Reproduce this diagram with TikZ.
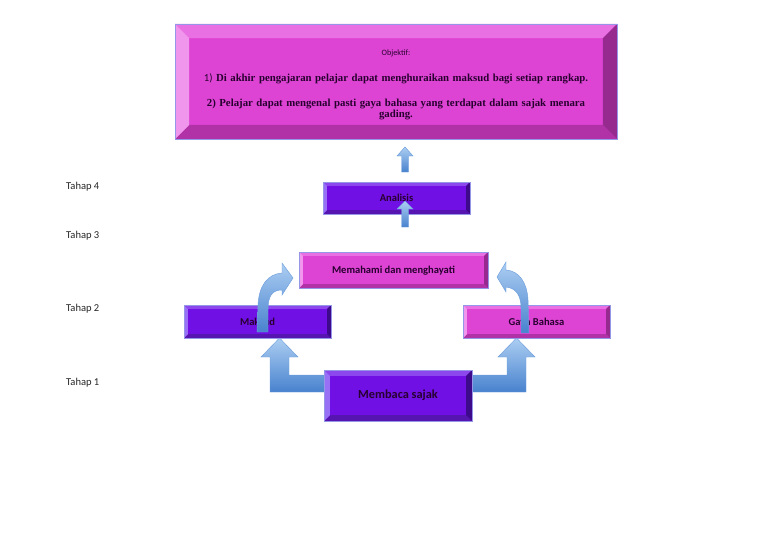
\documentclass[tikz,border=0pt]{standalone}
\usepackage{fontspec}
\setmainfont{Liberation Serif}
\newfontfamily\calfont{Carlito}
\definecolor{magface}{RGB}{222,68,212}
\definecolor{magtop}{RGB}{232,112,226}
\definecolor{magleft}{RGB}{240,150,236}
\definecolor{magright}{RGB}{150,42,142}
\definecolor{magbot}{RGB}{176,50,166}
\definecolor{purface}{RGB}{112,16,228}
\definecolor{purtop}{RGB}{140,72,236}
\definecolor{purleft}{RGB}{152,112,245}
\definecolor{purright}{RGB}{62,10,140}
\definecolor{purbot}{RGB}{86,20,176}
\definecolor{rimblue}{RGB}{150,150,232}
\definecolor{inktext}{RGB}{40,0,48}
\definecolor{arrtop}{RGB}{172,206,242}
\definecolor{arrbot}{RGB}{72,130,206}
\definecolor{arrline}{RGB}{112,160,222}
\tikzset{
  box/.style={rectangle, inner sep=0pt, outer sep=0pt, text=inktext,
    font=\calfont\bfseries\fontsize{9}{10}\selectfont},
  magbox/.style={box, fill=magface},
  purbox/.style={box, fill=purface},
  rim/.style={draw=rimblue, line width=0.8pt},
  blockarrow/.style={top color=arrtop, bottom color=arrbot, draw=arrline, line width=0.4pt},
  tahap/.style={anchor=west, text=black!85, font=\calfont\fontsize{9}{10}\selectfont}
}
% bevelled edges round a box: node, depth, colour prefix
\newcommand{\bevel}[3]{%
  \fill[#3top] (#1.north west) -- (#1.north east) -- ([shift={(-#2,-#2)}]#1.north east) -- ([shift={(#2,-#2)}]#1.north west) -- cycle;
  \fill[#3bot] (#1.south west) -- (#1.south east) -- ([shift={(-#2,#2)}]#1.south east) -- ([shift={(#2,#2)}]#1.south west) -- cycle;
  \fill[#3left] (#1.north west) -- (#1.south west) -- ([shift={(#2,#2)}]#1.south west) -- ([shift={(#2,-#2)}]#1.north west) -- cycle;
  \fill[#3right] (#1.north east) -- (#1.south east) -- ([shift={(-#2,#2)}]#1.south east) -- ([shift={(-#2,-#2)}]#1.north east) -- cycle;
  \draw[rim] (#1.north west) rectangle (#1.south east);
}
\begin{document}
\begin{tikzpicture}[x=0.3mm, y=-0.3mm]
\useasboundingbox (0,0) rectangle (768,543);

% big arrows under the first box
\path[blockarrow] (330,375) -- (289,375) -- (289,357) -- (298,357) -- (279.5,338) -- (261,357) -- (270,357) -- (270,392) -- (330,392) -- cycle;
\path[blockarrow] (466,375) -- (507,375) -- (507,357) -- (498,357) -- (516.5,338) -- (535,357) -- (526,357) -- (526,392) -- (466,392) -- cycle;

\node[magbox, minimum width=132.6mm, minimum height=34.5mm] (obj) at (396,81.5) {};
\bevel{obj}{12pt}{mag}
\node[box, align=center, text width=128mm] (objtext) at (396,85)
  {{\calfont\mdseries\fontsize{7}{8}\selectfont Objektif:}\\[12pt]
   {\rmfamily\bfseries\fontsize{9.2}{10}\selectfont{\calfont\mdseries 1)} Di akhir pengajaran pelajar dapat menghuraikan maksud bagi setiap rangkap.}\\[10pt]
   {\rmfamily\bfseries\fontsize{9.2}{11.5}\selectfont 2) Pelajar dapat mengenal pasti gaya bahasa yang terdapat dalam sajak menara\\ gading.}};

\node[purbox, minimum width=44.1mm, minimum height=9.6mm, text depth=-1pt] (ana) at (396.5,198) {Analisis};
\bevel{ana}{3.4pt}{pur}
\node[magbox, minimum width=56.7mm, minimum height=10.8mm, text depth=-1pt] (mem) at (393.5,270) {Memahami dan menghayati};
\bevel{mem}{3.4pt}{mag}
\node[purbox, minimum width=44.1mm, minimum height=9.9mm, text depth=-1pt] (mak) at (257.5,321.5) {Maksud};
\bevel{mak}{3.4pt}{pur}
\node[magbox, minimum width=44.1mm, minimum height=9.9mm, text depth=-1pt] (gaya) at (536.5,321.5) {Gaya Bahasa};
\bevel{gaya}{3.4pt}{mag}
\node[purbox, minimum width=44.4mm, minimum height=15.3mm, font=\calfont\bfseries\fontsize{10.5}{12}\selectfont] (baca) at (398,395.5) {Membaca sajak};
\bevel{baca}{5pt}{pur}

% curved arrows
\path[blockarrow] (257,332) -- (258,305) .. controls (259,285) and (268,274) .. (282,273) -- (282,263) -- (293,278) -- (282,295) -- (282,290) .. controls (272,290) and (268,296) .. (268,310) -- (268,332) -- cycle;
\path[blockarrow] (529,333) -- (528,300) .. controls (527,282) and (519,271) .. (506,270) -- (506,262) -- (497,277) -- (506,292) -- (506,287) .. controls (515,288) and (521,294) .. (521,308) -- (521,333) -- cycle;

% small arrows
\path[blockarrow] (401.5,172) -- (401.5,156) -- (397,156) -- (405,147) -- (413,156) -- (408.5,156) -- (408.5,172) -- cycle;
\path[blockarrow] (401.5,227) -- (401.5,209) -- (397,209) -- (405,201) -- (413,209) -- (408.5,209) -- (408.5,227) -- cycle;

\node[tahap] (t4) at (62,187) {Tahap 4};
\node[tahap] (t3) at (62,236) {Tahap 3};
\node[tahap] (t2) at (62,309) {Tahap 2};
\node[tahap] (t1) at (62,383) {Tahap 1};
\end{tikzpicture}
\end{document}
